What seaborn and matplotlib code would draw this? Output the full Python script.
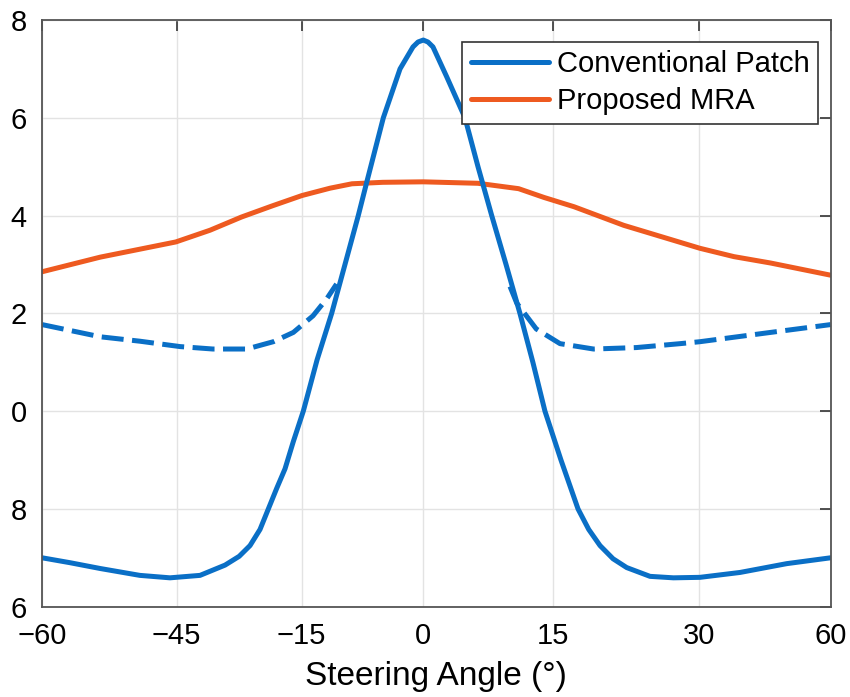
import numpy as np
import pandas as pd
import matplotlib
matplotlib.use("Agg")
import matplotlib.pyplot as plt
import seaborn as sns

# tick angles and the (uneven) spacing they get on the axis
tick_angles = [-60, -45, -15, 0, 15, 30, 60]
tick_labels = ["\u221260", "\u221245", "\u221215", "0", "15", "30", "60"]
tick_spacing = [0.0, 134.7, 259.7, 381.3, 510.7, 656.7, 788.7]

y_ticks = [-4, -2, 0, 2, 4, 6, 8]
y_tick_labels = ["6", "8", "0", "2", "4", "6", "8"]

# conventional patch (solid)
conv_angle = [-60, -56.9, -53.5, -49.1, -45.75, -39.4, -33.4, -30.0, -27.4, -25.0, -23.0,
              -21.0, -19.0, -17.0, -14.8, -13.1, -11.3, -9.66, -8.02, -6.98, -4.93, -2.87,
              -1.27, -0.65, 0, 0.54, 1.12, 2.71, 4.83, 6.34, 7.93, 9.59, 11.2, 12.7, 14.1,
              15.85, 17.6, 18.7, 19.86, 21.2, 22.6, 25.0, 27.4, 30.3, 39.4, 50.0, 60]
conv_value = [-3.0, -3.1, -3.22, -3.36, -3.41, -3.36, -3.15, -2.97, -2.75, -2.42, -2.0,
              -1.58, -1.18, -0.62, 0.0, 1.05, 2.0, 3.0, 4.0, 4.68, 6.0, 7.0,
              7.45, 7.55, 7.59, 7.55, 7.45, 6.84, 6.0, 5.0, 4.0, 3.0, 2.0, 1.0, 0.0,
              -1.0, -2.0, -2.42, -2.75, -3.02, -3.2, -3.38, -3.41, -3.40, -3.30, -3.12, -3.0]

# conventional patch (dashed side branches)
dash_left_angle = [-60, -53.5, -49.1, -44.2, -36.3, -28.2, -21.8, -17.0, -13.6, -11.9, -10.7]
dash_left_value = [1.77, 1.52, 1.43, 1.32, 1.27, 1.27, 1.42, 1.61, 1.95, 2.30, 2.60]
dash_right_angle = [10.05, 10.83, 13.1, 15.75, 19.2, 23.6, 28.1, 30.3, 45.5, 60]
dash_right_value = [2.55, 2.21, 1.68, 1.38, 1.27, 1.30, 1.38, 1.42, 1.6, 1.77]

# proposed MRA
mra_angle = [-60, -53.5, -45.1, -37.0, -29.45, -22.0, -14.96, -11.5, -8.8, -5.0, 0,
             6.34, 11.05, 14.0, 17.2, 22.3, 30.3, 38.0, 46.3, 60]
mra_value = [2.85, 3.15, 3.46, 3.70, 3.97, 4.20, 4.41, 4.56, 4.65, 4.68, 4.69,
             4.66, 4.55, 4.37, 4.18, 3.80, 3.33, 3.16, 3.03, 2.78]

blue = "#0A6FC6"
orange = "#EE5A20"

sns.set_theme(style="whitegrid")
plt.rcParams["font.family"] = ["Liberation Sans", "DejaVu Sans"]
plt.rcParams["text.color"] = "black"
plt.rcParams["axes.labelcolor"] = "black"

fig = plt.figure(figsize=(8.5, 6.97), dpi=100)
ax = fig.add_axes([0.0494, 0.1296, 0.9279, 0.8417])

# piecewise-linear axis so the tick labels land where they do in the original
fwd = lambda a: np.interp(a, tick_angles, tick_spacing)
inv = lambda p: np.interp(p, tick_spacing, tick_angles)
ax.set_xscale("function", functions=(fwd, inv))

conv = pd.DataFrame({"angle": conv_angle, "value": conv_value})
mra = pd.DataFrame({"angle": mra_angle, "value": mra_value})
dl = pd.DataFrame({"angle": dash_left_angle, "value": dash_left_value})
dr = pd.DataFrame({"angle": dash_right_angle, "value": dash_right_value})

lw = 3.6
for d in (dl, dr):
    sns.lineplot(data=d, x="angle", y="value", ax=ax, color=blue, lw=lw,
                 linestyle=(0, (4.4, 1.7)), sort=False, solid_joinstyle="round")
sns.lineplot(data=mra, x="angle", y="value", ax=ax, color=orange, lw=lw, sort=False,
             solid_joinstyle="round")
sns.lineplot(data=conv, x="angle", y="value", ax=ax, color=blue, lw=lw, sort=False,
             solid_joinstyle="round")

ax.set_xlim(-60, 60)
ax.set_ylim(-4, 8)
ax.set_xticks(tick_angles)
ax.set_xticklabels(tick_labels)
ax.set_yticks(y_ticks)
ax.set_yticklabels(y_tick_labels)
ax.set_xlabel("Steering Angle (\u00b0)", fontsize=24, labelpad=8)
ax.set_ylabel("")

ax.grid(True, color="#E3E3E3", lw=1.0)
for s in ax.spines.values():
    s.set_color("#555555")
    s.set_linewidth(1.3)
ax.tick_params(axis="both", direction="in", length=8, width=1.2, color="#333333",
               labelcolor="black", labelsize=21, top=True, right=True)
ax.tick_params(axis="x", pad=11)
ax.tick_params(axis="y", pad=11)

handles = [plt.Line2D([], [], color=blue, lw=lw), plt.Line2D([], [], color=orange, lw=lw)]
leg = ax.legend(handles, ["Conventional Patch", "Proposed MRA"], loc="upper right",
                bbox_to_anchor=(0.984, 0.963), fontsize=21, frameon=True, fancybox=False,
                framealpha=1, edgecolor="#333333", handlelength=2.7, handletextpad=0.25,
                borderpad=0.3, labelspacing=0.3, borderaxespad=0)
leg.get_frame().set_linewidth(1.2)

fig.savefig("out.png", dpi=100)
